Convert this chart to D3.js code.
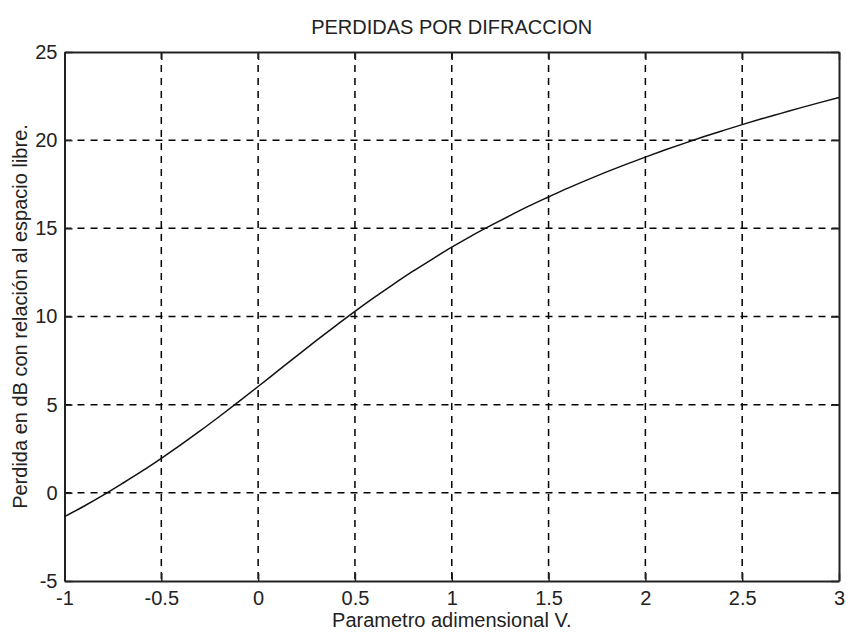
<!DOCTYPE html>
<html>
<head>
<meta charset="utf-8">
<style>
  body { margin: 0; background: #fff; }
  svg { display: block; font-family: "Liberation Sans", Arial, sans-serif; }
</style>
</head>
<body>
<svg width="846" height="633"></svg>
<script src="https://d3js.org/d3.v7.min.js"></script>
<script>

// parameter v (x) and diffraction loss in dB (y)
var vValues = [-1.0, -0.9, -0.8, -0.7, -0.6, -0.5, -0.4, -0.3, -0.2, -0.1,
               0.0, 0.1, 0.2, 0.3, 0.4, 0.5, 0.6, 0.7, 0.8, 0.9,
               1.0, 1.1, 1.2, 1.3, 1.4, 1.5, 1.6, 1.7, 1.8, 1.9,
               2.0, 2.1, 2.2, 2.3, 2.4, 2.5, 2.6, 2.7, 2.8, 2.9, 3.0];
var lossValues = [-1.35, -0.76, -0.13, 0.54, 1.23, 1.96, 2.72, 3.51, 4.33, 5.17,
                  6.03, 6.90, 7.77, 8.63, 9.47, 10.29, 11.08, 11.84, 12.57, 13.26,
                  13.93, 14.56, 15.15, 15.72, 16.27, 16.78, 17.28, 17.75, 18.20, 18.63,
                  19.04, 19.44, 19.82, 20.19, 20.54, 20.88, 21.21, 21.52, 21.83, 22.13, 22.42];
var xTicks = [-1, -0.5, 0, 0.5, 1, 1.5, 2, 2.5, 3];
var yTicks = [-5, 0, 5, 10, 15, 20, 25];

var titleText = "PERDIDAS POR DIFRACCION";
var xLabel = "Parametro adimensional V.";
var yLabel = "Perdida en dB con relación al espacio libre.";

var svg = d3.select("svg"),
    margin = {top: 52, right: 7, bottom: 52, left: 64.5},
    width = +svg.attr("width") - margin.left - margin.right,
    height = +svg.attr("height") - margin.top - margin.bottom,
    g = svg.append("g").attr("transform", "translate(" + margin.left + "," + margin.top + ")");

var x = d3.scaleLinear().domain([-1, 3]).range([0, width]);
var y = d3.scaleLinear().domain([-5, 25]).range([height, 0]);

var data = vValues.map(function(v, i) { return {v: v, loss: lossValues[i]}; });

// dashed grid
g.append("g")
  .selectAll("line")
  .data(xTicks.slice(1, -1))
  .enter().append("line")
    .attr("x1", function(d) { return x(d); })
    .attr("x2", function(d) { return x(d); })
    .attr("y1", 0)
    .attr("y2", height)
    .attr("stroke", "#000")
    .attr("stroke-width", 1.5)
    .attr("stroke-dasharray", "7,6");

g.append("g")
  .selectAll("line")
  .data(yTicks.slice(1, -1))
  .enter().append("line")
    .attr("x1", 0)
    .attr("x2", width)
    .attr("y1", function(d) { return y(d); })
    .attr("y2", function(d) { return y(d); })
    .attr("stroke", "#000")
    .attr("stroke-width", 1.5)
    .attr("stroke-dasharray", "7,6");

// axes, ticks pointing inward like matlab
var fmt = function(d) { return String(d); };

var xAxis = g.append("g")
    .attr("transform", "translate(0," + height + ")")
    .call(d3.axisBottom(x).tickValues(xTicks).tickFormat(fmt).tickSizeInner(-8).tickSizeOuter(0).tickPadding(14));
var yAxis = g.append("g")
    .call(d3.axisLeft(y).tickValues(yTicks).tickFormat(fmt).tickSizeInner(-8).tickSizeOuter(0).tickPadding(14));
var xTop = g.append("g")
    .call(d3.axisTop(x).tickValues(xTicks).tickFormat("").tickSizeInner(-8).tickSizeOuter(0));
var yRight = g.append("g")
    .attr("transform", "translate(" + width + ",0)")
    .call(d3.axisRight(y).tickValues(yTicks).tickFormat("").tickSizeInner(-8).tickSizeOuter(0));

[xAxis, yAxis, xTop, yRight].forEach(function(a) {
  a.select(".domain").attr("stroke", "#222").attr("stroke-width", 2);
  a.selectAll(".tick line").attr("stroke", "#222").attr("stroke-width", 1.5);
  a.selectAll(".tick text")
    .attr("fill", "#222")
    .attr("font-size", "20px")
    .attr("font-family", "Liberation Sans, Arial, sans-serif");
});
xAxis.selectAll(".tick text").attr("dy", "0.71em").attr("y", 10);
yAxis.selectAll(".tick text").attr("x", -7);

// curve
var line = d3.line()
    .x(function(d) { return x(d.v); })
    .y(function(d) { return y(d.loss); })
    .curve(d3.curveMonotoneX);

g.append("path")
    .datum(data)
    .attr("fill", "none")
    .attr("stroke", "#111")
    .attr("stroke-width", 1.5)
    .attr("stroke-linejoin", "round")
    .attr("d", line);

// labels
svg.append("text")
    .attr("x", margin.left + width / 2)
    .attr("y", 34)
    .attr("text-anchor", "middle")
    .attr("font-size", "20px")
    .attr("fill", "#222")
    .text(titleText);

svg.append("text")
    .attr("x", margin.left + width / 2)
    .attr("y", 627)
    .attr("text-anchor", "middle")
    .attr("font-size", "20px")
    .attr("fill", "#222")
    .text(xLabel);

svg.append("text")
    .attr("transform", "translate(27," + (margin.top + height / 2) + ") rotate(-90)")
    .attr("text-anchor", "middle")
    .attr("font-size", "20px")
    .attr("fill", "#222")
    .text(yLabel);

</script>
</body>
</html>
